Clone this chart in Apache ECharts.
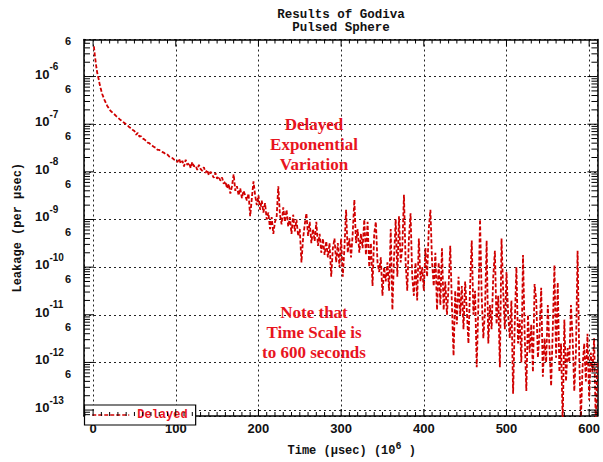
<!DOCTYPE html>
<html><head><meta charset="utf-8">
<script src="https://cdn.jsdelivr.net/npm/echarts@6/dist/echarts.min.js"></script>
<style>html,body{margin:0;padding:0;background:#fff}#c{width:603px;height:462px}</style>
</head><body><div id="c"></div>
<script>
// ---- texts ----
const titleText = 'Results of Godiva\nPulsed Sphere';
const yAxisTitle = 'Leakage (per \u03bcsec)';
const xAxisTitleMain = 'Time (\u03bcsec) (10';
const xAxisTitleSup = '6';
const seriesName = 'Delayed';
const noteTop = ['Delayed', 'Exponential', 'Variation'];
const noteBottom = ['Note that', 'Time Scale is', 'to 600 seconds'];

// ---- axes ----
const xRange = [-11, 610];
const yRange = [7.5e-14, 6e-6];
const yMinorLabelValues = [6e-6, 6e-7, 6e-8, 6e-9, 6e-10, 6e-11, 6e-12, 6e-13];
const yMinorLabelText = '6';

// ---- data: time (10^6 usec), leakage (per usec) ----
const delayed = [
[1,4.3e-6],[2,2.9e-6],[3,2.1e-6],[4,1.55e-6],[5,1.2e-6],[6,1.0e-6],[7,8.5e-7],[8,6.8e-7],[9,5.8e-7],[10,5.0e-7],
[11,4.3e-7],[12,3.9e-7],[13,3.5e-7],[14,3.15e-7],[15,2.9e-7],[16,2.65e-7],[17,2.45e-7],[18,2.3e-7],[19,2.15e-7],[20,2.0e-7],
[22,1.85e-7],[24,1.72e-7],[26,1.6e-7],[28,1.48e-7],[30,1.38e-7],[32,1.28e-7],[34,1.2e-7],[36,1.12e-7],[38,1.06e-7],[40,9.9e-8],
[42,9.3e-8],[44,8.6e-8],[46,8.3e-8],[48,7.6e-8],[50,7.2e-8],[52,6.0e-8],[54,6.6e-8],[56,5.5e-8],[58,5.6e-8],[60,5.0e-8],
[62,4.8e-8],[64,4.5e-8],[66,4.1e-8],[68,4.0e-8],[70,3.7e-8],[72,3.5e-8],[74,3.3e-8],[76,3.2e-8],[78,2.9e-8],[80,2.9e-8],
[82,2.7e-8],[84,2.6e-8],[86,2.5e-8],[88,2.3e-8],[90,2.3e-8],[92,2.1e-8],[94,2.0e-8],[96,1.95e-8],[98,1.8e-8],[100,1.75e-8],
[102,1.6e-8],[104,1.9e-8],[106,1.5e-8],[108,1.7e-8],[110,1.3e-8],[112,1.8e-8],[114,1.4e-8],[116,1.55e-8],[118,1.2e-8],[120,1.6e-8],
[122,1.3e-8],[124,1.35e-8],[126,1.1e-8],[128,1.4e-8],[130,1.15e-8],[132,1.05e-8],[134,1.25e-8],[136,9.5e-9],[138,1.1e-8],[140,8.5e-9],
[142,1.0e-8],[144,8.8e-9],[146,7.5e-9],[148,9.5e-9],[150,7.2e-9],[152,8.0e-9],[154,6.5e-9],[156,7.6e-9],[158,5.6e-9],
[160,6.3e-9],[162,4.5e-9],[164,5.6e-9],[166,3.5e-9],[168,5.0e-9],[170,8.9e-9],[172,4.0e-9],[174,5.0e-9],[176,3.2e-9],[178,4.5e-9],
[180,2.8e-9],[182,4.0e-9],[184,3.2e-9],[186,2.5e-9],[188,3.5e-9],[190,1.17e-9],[192,2.8e-9],[194,6.3e-9],[196,3.2e-9],[198,2.0e-9],
[200,3.2e-9],[202,1.6e-9],[204,2.5e-9],[206,1.4e-9],[208,2.2e-9],[210,1.0e-9],[212,1.4e-9],[214,6.3e-10],[216,1.12e-9],[218,5.0e-10],
[220,8.9e-10],[222,1.12e-9],[224,5.0e-9],[226,1.26e-9],[228,7.9e-10],[230,1.8e-9],[232,8.9e-10],[234,1.6e-9],[236,7.1e-10],[238,1.12e-9],
[240,5.0e-10],[242,1.26e-9],[244,5.6e-10],[246,1.0e-9],[248,4.5e-10],[250,6.3e-10],[252,1.26e-10],[254,4.0e-10],[256,7.9e-10],[258,1.35e-9],
[260,4.5e-10],[262,8.9e-10],[264,3.2e-10],[266,6.3e-10],[268,3.5e-10],[270,8.9e-10],[272,2.8e-10],[274,5.0e-10],[276,2.0e-10],[278,4.0e-10],
[280,1.8e-10],[282,3.5e-10],[284,1.6e-10],[286,3.2e-10],[288,6.3e-11],[290,2.5e-10],[292,4.0e-10],[294,1.26e-10],[296,3.2e-10],[298,1.0e-10],
[300,4.0e-10],[302,6.3e-11],[304,2.5e-10],[306,1.6e-9],[308,2.0e-10],[310,4.0e-10],[312,1.6e-10],[314,5.0e-10],[316,2.6e-9],[318,3.2e-10],
[320,6.3e-10],[322,2.0e-10],[324,5.0e-10],[326,2.5e-10],[328,1.0e-9],[330,1.8e-10],[332,8.9e-10],[334,1.0e-10],[336,3.2e-10],[338,4.0e-11],
[340,5.0e-10],[342,8.9e-10],[344,1.26e-10],[346,7.9e-11],[348,1.6e-10],[350,2.5e-11],[352,1.0e-10],[354,5.0e-11],[356,1.26e-10],[358,3.2e-11],
[360,6.3e-10],[362,1.26e-11],[364,1.6e-10],[366,1.0e-9],[368,6.3e-11],[370,1.17e-9],[372,1.26e-10],[374,2.5e-10],[376,3.3e-9],[378,1.26e-10],
[380,3.2e-11],[382,4.0e-10],[384,1.35e-9],[386,6.3e-11],[388,2.5e-11],[390,1.26e-10],[392,2.0e-11],[394,4.0e-10],[396,5.0e-11],[398,1.0e-10],
[400,3.2e-11],[402,2.5e-10],[404,6.3e-11],[406,6.3e-10],[408,1.6e-9],[410,1.26e-10],[412,4.0e-11],[414,2.0e-10],[416,1.26e-11],[418,1.26e-10],
[420,1.6e-11],[422,2.5e-10],[424,1.26e-11],[426,5.0e-11],[428,1.0e-11],[430,4.0e-11],[432,2.8e-10],[434,1.6e-11],[436,1.38e-12],[438,3.2e-11],
[440,6.3e-12],[442,6.3e-11],[444,1.0e-11],[446,4.0e-11],[448,5.0e-12],[450,5.0e-11],[452,1.26e-11],[454,2.5e-12],[456,4.0e-11],[458,3.6e-10],
[460,1.0e-11],[462,3.2e-11],[464,7.9e-13],[466,1.6e-11],[468,1.0e-9],[470,2.5e-11],[472,3.2e-12],[474,1.26e-11],[476,3.6e-10],[478,2.5e-12],
[480,1.6e-11],[482,5.0e-12],[484,6.3e-11],[486,2.2e-10],[488,6.3e-12],[490,2.5e-11],[492,7.9e-13],[494,4.0e-10],[496,3.2e-11],[498,5.0e-12],
[500,7.9e-11],[502,1.0e-11],[504,3.2e-12],[506,2.0e-11],[508,2.2e-13],[510,6.3e-12],[512,1.0e-10],[514,2.5e-12],[516,7.9e-12],[518,1.0e-12],
[520,1.8e-10],[522,4.0e-12],[524,2.5e-13],[526,1.0e-11],[528,1.6e-12],[530,6.3e-12],[532,6.3e-13],[534,4.4e-11],[536,2.0e-11],[538,1.26e-12],
[540,4.0e-12],[542,3.7e-11],[544,5.0e-13],[546,3.2e-12],[548,1.0e-12],[550,1.6e-11],[552,2.0e-12],[554,3.2e-13],[556,5.0e-12],[558,1.1e-10],
[560,1.26e-12],[562,4.8e-11],[564,6.3e-13],[566,2.5e-12],[568,5.0e-14],[570,7.9e-12],[572,4.0e-13],[574,2.0e-12],[576,1.0e-12],[578,1.6e-11],
[580,3.2e-12],[582,2.5e-13],[584,1.6e-12],[586,2.2e-10],[588,1.26e-12],[590,6.3e-14],[592,7.9e-13],[594,2.5e-12],[596,4.0e-13],[598,4.0e-12],
[600,1.6e-13],[602,1.6e-12],[604,6.3e-13],[606,3.2e-12],[608,5.0e-14],[610,1.0e-12]
];

// ---- tick decorations (axis ticks, not data) ----
const yTickMarks = [];
for (let n = -14; n <= -6; n++) {
  for (let k = 1; k <= 9; k++) {
    const v = k * Math.pow(10, n);
    if (v > yRange[0] && v < yRange[1] * 0.999) yTickMarks.push([xRange[0], v, k === 1 ? 1 : 0]);
  }
}
const xTickMarks = [];
for (let t = -10; t <= 610; t += 10) xTickMarks.push([t, yRange[0], t % 100 === 0 ? 1 : 0]);

const RED = '#e8141e';
const LINE_RED = '#d00000';
const MONO = '"Liberation Mono", "DejaVu Sans Mono", monospace';
const SANS = '"Liberation Sans", Arial, sans-serif';
const SERIF = '"Liberation Serif", "Times New Roman", serif';

const chart = echarts.init(document.getElementById('c'), null, {renderer: 'svg'});

const gridLine = {show: true, lineStyle: {color: '#222', width: 1, type: [2, 3]}};

const option = {
  animation: false,
  backgroundColor: '#fff',
  title: {
    text: titleText, left: 341, top: 8, padding: 0, textAlign: 'center',
    textStyle: {fontFamily: MONO, fontWeight: 'bold', fontSize: 12.5, lineHeight: 13, color: '#111'}
  },
  grid: {left: 84, right: 5.5, top: 39.5, bottom: 36.5, containLabel: false},
  legend: {
    data: [seriesName], left: 84.5, bottom: 37, orient: 'horizontal',
    padding: [4, 8, 4, 7], itemWidth: 37, itemHeight: 12, itemGap: 6,
    itemStyle: {opacity: 0},
    lineStyle: {color: LINE_RED, width: 1.5, type: [4, 2]},
    backgroundColor: '#fff', borderColor: '#000', borderWidth: 1.2, borderRadius: 0,
    textStyle: {color: RED, fontFamily: MONO, fontWeight: 'bold', fontSize: 12, lineHeight: 12, padding: [0, 0, 0, 3]}
  },
  xAxis: [{
    type: 'value', min: xRange[0], max: xRange[1], position: 'bottom',
    axisLine: {show: true, onZero: false, lineStyle: {color: '#000', width: 1.5}},
    axisTick: {show: false},
    axisLabel: {
      margin: 6, color: '#111', fontFamily: SANS, fontWeight: 'bold', fontSize: 13,
      formatter: v => (Math.abs(v % 100) < 1e-9 ? String(v) : '')
    },
    splitLine: gridLine,
    name: '{n|' + xAxisTitleMain + '}{s|' + xAxisTitleSup + '}{n| )}',
    nameLocation: 'middle', nameGap: 25,
    nameTextStyle: {
      padding: [0, 0, 0, 22],
      rich: {
        n: {fontFamily: MONO, fontWeight: 'bold', fontSize: 12, color: '#111', verticalAlign: 'bottom'},
        s: {fontFamily: MONO, fontWeight: 'bold', fontSize: 10, color: '#111', verticalAlign: 'bottom', padding: [0, 0, 6, 0]}
      }
    }
  }, {
    type: 'value', min: xRange[0], max: xRange[1], position: 'top',
    axisLine: {show: true, onZero: false, lineStyle: {color: '#000', width: 1.5}},
    axisTick: {show: false}, axisLabel: {show: false}, splitLine: {show: false}
  }],
  yAxis: [{
    type: 'log', logBase: 10, min: yRange[0], max: yRange[1], position: 'left',
    axisLine: {show: true, onZero: false, lineStyle: {color: '#000', width: 1.5}},
    axisTick: {show: false},
    minorTick: {show: false}, minorSplitLine: {show: false},
    axisLabel: {
      margin: 49, align: 'left', verticalAlign: 'middle',
      showMinLabel: true, showMaxLabel: true,
      formatter: v => {
        const l = Math.log10(v); const e = Math.round(l);
        if (Math.abs(l - e) > 1e-6) return '';
        return '{b|10}{s|' + String(e) + '}';
      },
      rich: {
        b: {fontFamily: SANS, fontWeight: 'bold', fontSize: 13, color: '#111', verticalAlign: 'bottom', padding: [0, 0, 11, 0]},
        s: {fontFamily: SANS, fontWeight: 'bold', fontSize: 10, color: '#111', verticalAlign: 'bottom', padding: [0, 0, 20, 0]}
      }
    },
    splitLine: gridLine,
    name: yAxisTitle, nameLocation: 'middle', nameGap: 56, nameRotate: 90,
    nameTextStyle: {fontFamily: MONO, fontWeight: 'bold', fontSize: 12, color: '#111'}
  }, {
    type: 'log', logBase: 10, min: yRange[0], max: yRange[1], position: 'right',
    axisLine: {show: true, onZero: false, lineStyle: {color: '#000', width: 1.5}},
    axisTick: {show: false}, axisLabel: {show: false}, splitLine: {show: false}
  }],
  graphic: [
    {type: 'text', x: 314, y: 144, z: 100,
     style: {text: noteTop.join('\n'), align: 'center', verticalAlign: 'middle', lineHeight: 20,
             font: 'bold 17px ' + SERIF, fill: RED}},
    {type: 'text', x: 314, y: 332, z: 100,
     style: {text: noteBottom.join('\n'), align: 'center', verticalAlign: 'middle', lineHeight: 20,
             font: 'bold 17px ' + SERIF, fill: RED}}
  ],
  series: [
    {
      name: seriesName, type: 'line', data: delayed, xAxisIndex: 0, yAxisIndex: 0,
      showSymbol: false, symbol: 'none', clip: true,
      lineStyle: {color: LINE_RED, width: 1.8, type: [4, 2]},
      itemStyle: {color: LINE_RED}, z: 5
    },
    {
      type: 'custom', silent: true, xAxisIndex: 0, yAxisIndex: 0, data: yTickMarks, z: 6,
      renderItem: (params, api) => {
        const cs = params.coordSys;
        const y = api.coord([api.value(0), api.value(1)])[1];
        const len = api.value(2) ? 10 : 6;
        return {type: 'group', children: [
          {type: 'line', shape: {x1: cs.x, y1: y, x2: cs.x + len, y2: y}, style: {stroke: '#000', lineWidth: 1}},
          {type: 'line', shape: {x1: cs.x + cs.width - len, y1: y, x2: cs.x + cs.width, y2: y}, style: {stroke: '#000', lineWidth: 1}}
        ]};
      }
    },
    {
      type: 'custom', silent: true, xAxisIndex: 0, yAxisIndex: 0, data: xTickMarks, z: 6,
      renderItem: (params, api) => {
        const cs = params.coordSys;
        const x = api.coord([api.value(0), api.value(1)])[0];
        const len = api.value(2) ? 7 : 4;
        return {type: 'group', children: [
          {type: 'line', shape: {x1: x, y1: cs.y + cs.height, x2: x, y2: cs.y + cs.height - len}, style: {stroke: '#000', lineWidth: 1}},
          {type: 'line', shape: {x1: x, y1: cs.y, x2: x, y2: cs.y + len}, style: {stroke: '#000', lineWidth: 1}}
        ]};
      }
    },
    {
      type: 'custom', silent: true, xAxisIndex: 0, yAxisIndex: 0, z: 6,
      data: yMinorLabelValues.map(v => [xRange[0], v]),
      renderItem: (params, api) => {
        const cs = params.coordSys;
        const y = api.coord([api.value(0), api.value(1)])[1];
        return {type: 'text', style: {text: yMinorLabelText, x: cs.x - 13, y: y + 1.5, align: 'right', verticalAlign: 'middle',
          font: 'bold 11px ' + SANS, fill: '#111'}};
      }
    }
  ]
};
chart.setOption(option);
</script></body></html>
